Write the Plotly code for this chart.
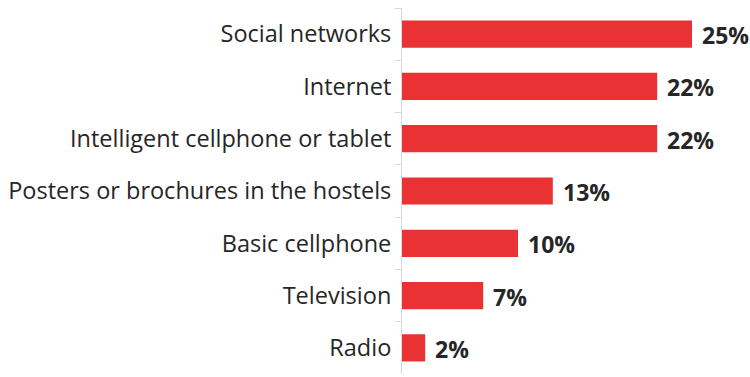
import plotly.graph_objects as go

# Information channels and the share of respondents for each
channels = [
    "Social networks",
    "Internet",
    "Intelligent cellphone or tablet",
    "Posters or brochures in the hostels",
    "Basic cellphone",
    "Television",
    "Radio",
]
shares = [25, 22, 22, 13, 10, 7, 2]
share_labels = [f"{v}%" for v in shares]

BAR_RED = "#E83233"
TEXT_DARK = "#262626"
AXIS_GREY = "#D9D9D9"

fig = go.Figure(
    go.Bar(
        x=shares,
        y=channels,
        orientation="h",
        marker=dict(color=BAR_RED, line=dict(width=0)),
        hoverinfo="skip",
    )
)

# Value labels placed just past the end of each bar
for ch, v, lab in zip(channels, shares, share_labels):
    fig.add_annotation(
        x=v,
        y=ch,
        text=lab,
        showarrow=False,
        xanchor="left",
        xshift=8,
        yshift=-1,
        font=dict(family="Open Sans", size=23, color=TEXT_DARK, weight="bold"),
    )

fig.update_layout(
    width=750,
    height=377,
    margin=dict(l=402, r=0, t=8, b=3),
    paper_bgcolor="white",
    plot_bgcolor="white",
    bargap=0.48,
    showlegend=False,
    xaxis=dict(
        range=[0, 30],
        visible=False,
        showgrid=False,
        zeroline=False,
    ),
    yaxis=dict(
        categoryorder="array",
        categoryarray=channels,
        autorange="reversed",
        showline=True,
        linecolor=AXIS_GREY,
        linewidth=1,
        ticks="outside",
        tickson="boundaries",
        ticklen=6,
        tickcolor=AXIS_GREY,
        ticklabelstandoff=5,
        showgrid=False,
        tickfont=dict(family="Open Sans", size=23.5, color=TEXT_DARK),
    ),
)

fig.write_html("out.html")
